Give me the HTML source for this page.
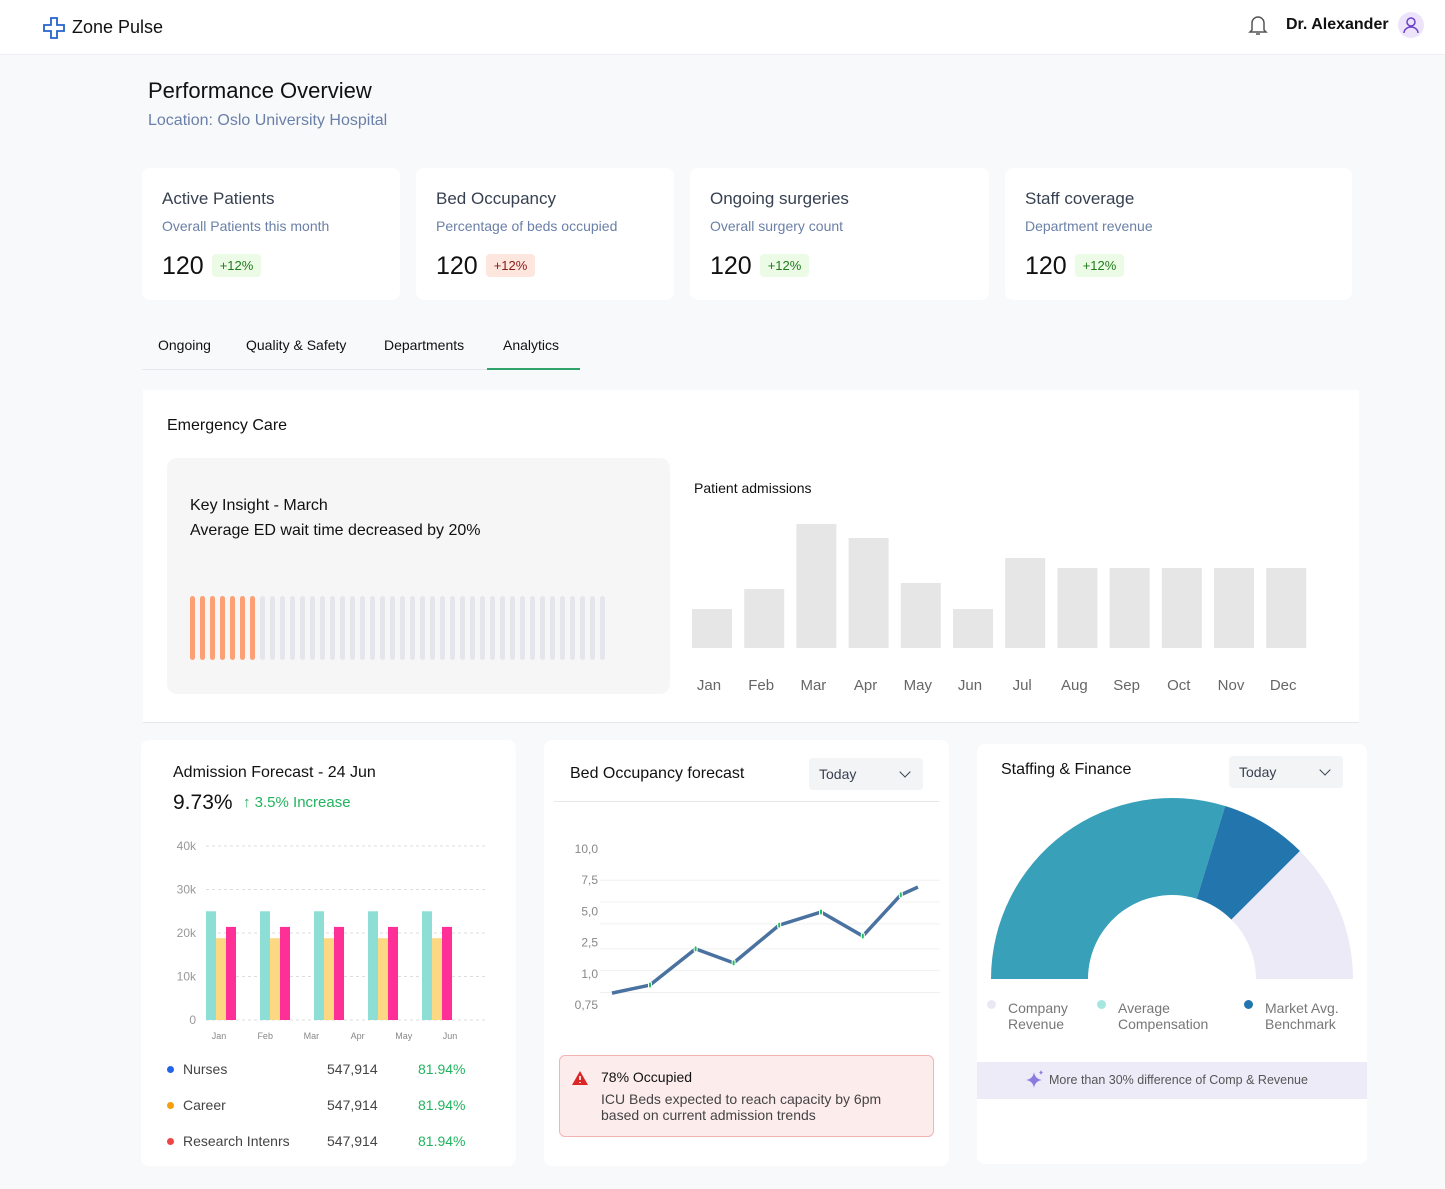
<!DOCTYPE html>
<html><head><meta charset="utf-8">
<style>
*{box-sizing:border-box;margin:0;padding:0}
body{width:1445px;height:1189px;background:#f8f9fb;font-family:"Liberation Sans",sans-serif;color:#1f2937;position:relative;overflow:hidden}
.abs{position:absolute}
.card{position:absolute;background:#fff;border-radius:8px}
.t{position:absolute;white-space:nowrap}
.badge{display:inline-block;font-size:13px;padding:4px 8px;border-radius:4px;margin-left:8px;vertical-align:4px}
.g{background:#ecfbe6;color:#207a1c}.r{background:#fde6dd;color:#8b1a1a}
.dd{position:absolute;background:#f3f4f6;border-radius:4px;font-size:14px;color:#374151;padding:8px 10px;width:114px;height:32px}
.dd:after{content:"";position:absolute;right:14px;top:10px;width:7px;height:7px;border-right:1.5px solid #374151;border-bottom:1.5px solid #374151;transform:rotate(45deg)}
</style></head><body>
<div class="abs" style="left:0;top:0;width:1445px;height:55px;background:#fff;border-bottom:1px solid #eceef2"></div>
<svg class="abs" style="left:42px;top:16px" width="24" height="24" viewBox="0 0 24 24"><path d="M9 2h6v7h7v6h-7v7H9v-7H2V9h7z" fill="none" stroke="#2563c9" stroke-width="1.8"/></svg>
<div class="t" style="left:72px;top:17px;font-size:18px;color:#111">Zone Pulse</div>
<svg class="abs" style="left:1248px;top:14px" width="20" height="22" viewBox="0 0 20 22"><path d="M4 16V9a6 6 0 0112 0v7l2 2H2zM8 20h4" fill="none" stroke="#555" stroke-width="1.5"/></svg>
<div class="t" style="left:1286px;top:16px;font-size:16px;font-weight:bold;color:#111">Dr. Alexander</div>
<div class="abs" style="left:1398px;top:12px;width:26px;height:26px;border-radius:50%;background:#ede4fb"><svg width="26" height="26"><circle cx="13" cy="10" r="4" fill="none" stroke="#6b3fc9" stroke-width="1.5"/><path d="M6 21a7 6 0 0114 0" fill="none" stroke="#6b3fc9" stroke-width="1.5"/></svg></div>

<div class="t" style="left:148px;top:78px;font-size:22px;color:#111">Performance Overview</div>
<div class="t" style="left:148px;top:112px;font-size:16px;color:#6b80a8">Location: Oslo University Hospital</div>

<div class="card" style="left:142px;top:168px;width:258px;height:132px">
<div class="t" style="left:20px;top:21px;font-size:17px;color:#374151">Active Patients</div>
<div class="t" style="left:20px;top:50px;font-size:14px;color:#6b80a8">Overall Patients this month</div>
<div class="t" style="left:20px;top:84px;font-size:25px;color:#111">120<span class="badge g">+12%</span></div></div>
<div class="card" style="left:416px;top:168px;width:258px;height:132px">
<div class="t" style="left:20px;top:21px;font-size:17px;color:#374151">Bed Occupancy</div>
<div class="t" style="left:20px;top:50px;font-size:14px;color:#6b80a8">Percentage of beds occupied</div>
<div class="t" style="left:20px;top:84px;font-size:25px;color:#111">120<span class="badge r">+12%</span></div></div>
<div class="card" style="left:690px;top:168px;width:299px;height:132px">
<div class="t" style="left:20px;top:21px;font-size:17px;color:#374151">Ongoing surgeries</div>
<div class="t" style="left:20px;top:50px;font-size:14px;color:#6b80a8">Overall surgery count</div>
<div class="t" style="left:20px;top:84px;font-size:25px;color:#111">120<span class="badge g">+12%</span></div></div>
<div class="card" style="left:1005px;top:168px;width:347px;height:132px">
<div class="t" style="left:20px;top:21px;font-size:17px;color:#374151">Staff coverage</div>
<div class="t" style="left:20px;top:50px;font-size:14px;color:#6b80a8">Department revenue</div>
<div class="t" style="left:20px;top:84px;font-size:25px;color:#111">120<span class="badge g">+12%</span></div></div>

<div class="abs" style="left:142px;top:369px;width:438px;height:1px;background:#e5e7eb"></div>
<div class="t" style="left:158px;top:337px;font-size:14px;color:#111">Ongoing</div>
<div class="t" style="left:246px;top:337px;font-size:14px;color:#111">Quality &amp; Safety</div>
<div class="t" style="left:384px;top:337px;font-size:14px;color:#111">Departments</div>
<div class="t" style="left:503px;top:337px;font-size:14px;color:#111">Analytics</div>
<div class="abs" style="left:487px;top:368px;width:93px;height:2px;background:#2fa36b"></div>

<div class="abs" style="left:143px;top:390px;width:1216px;height:333px;background:#fff;border-bottom:1px solid #e5e7eb"></div>
<div class="t" style="left:167px;top:417px;font-size:16px;color:#111">Emergency Care</div>
<div class="abs" style="left:167px;top:458px;width:503px;height:236px;background:#f6f6f6;border-radius:10px"></div>
<div class="t" style="left:190px;top:497px;font-size:16px;color:#111">Key Insight - March</div>
<div class="t" style="left:190px;top:522px;font-size:16px;color:#111">Average ED wait time decreased by 20%</div>
<svg class="abs" id="ticks" style="left:185px;top:590px" width="430" height="75"></svg>
<div class="t" style="left:694px;top:480px;font-size:14px;color:#111">Patient admissions</div>
<svg class="abs" id="adm" style="left:680px;top:500px" width="650" height="205"></svg>

<div class="card" style="left:141px;top:740px;width:375px;height:426px"></div>
<div class="t" style="left:173px;top:764px;font-size:16px;color:#111">Admission Forecast - 24 Jun</div>
<div class="t" style="left:173px;top:791px;font-size:21px;color:#111">9.73%</div>
<div class="t" style="left:243px;top:794px;font-size:15px;color:#22b35e">↑ 3.5% Increase</div>
<svg class="abs" id="fc" style="left:160px;top:830px" width="340" height="215"></svg>
<div id="leg1"></div>

<div class="card" style="left:544px;top:740px;width:405px;height:426px"></div>
<div class="t" style="left:570px;top:765px;font-size:16px;color:#111">Bed Occupancy forecast</div>
<div class="dd" style="left:809px;top:758px">Today</div>
<div class="abs" style="left:554px;top:801px;width:385px;height:1px;background:#e5e7eb"></div>
<svg class="abs" id="ln" style="left:560px;top:820px" width="385" height="200"></svg>
<div class="abs" style="left:559px;top:1055px;width:375px;height:82px;background:#fdecec;border:1px solid #f3b3b3;border-radius:6px">
<svg class="abs" style="left:11px;top:14px" width="18" height="16"><path d="M9 1L17 15H1z" fill="#dc2626"/><path d="M9 6v4M9 12v1" stroke="#fff" stroke-width="1.6"/></svg>
<div class="t" style="left:41px;top:13px;font-size:14px;color:#111">78% Occupied</div>
<div class="t" style="left:41px;top:35px;font-size:14px;color:#444;line-height:16px;white-space:normal;width:320px">ICU Beds expected to reach capacity by 6pm based on current admission trends</div></div>

<div class="card" style="left:977px;top:744px;width:390px;height:420px"></div>
<div class="t" style="left:1001px;top:761px;font-size:16px;color:#111">Staffing &amp; Finance</div>
<div class="dd" style="left:1229px;top:756px">Today</div>
<svg class="abs" id="gauge" style="left:977px;top:780px" width="390" height="210"></svg>
<div id="leg2"></div>
<div class="abs" style="left:977px;top:1062px;width:390px;height:37px;background:#eeebf8">
<svg class="abs" style="left:47px;top:7px" width="22" height="22"><path d="M10 3Q11 10 18 11Q11 12 10 19Q9 12 2 11Q9 10 10 3z" fill="#8b7be0"/><path d="M17 1Q17.5 3 19 3.5Q17.5 4 17 6Q16.5 4 15 3.5Q16.5 3 17 1z" fill="#8b7be0"/></svg>
<div class="t" style="left:72px;top:11px;font-size:12.5px;color:#555">More than 30% difference of Comp &amp; Revenue</div></div>

<script>
const NS="http://www.w3.org/2000/svg";
function mk(p,tag,a){const e=document.createElementNS(NS,tag);for(const k in a)e.setAttribute(k,a[k]);p.appendChild(e);return e;}

// progress ticks
const tickTotal=42, tickFilled=7;
const tk=document.getElementById('ticks');
for(let i=0;i<tickTotal;i++){const r=mk(tk,'rect',{x:5+i*10,y:6,width:5,height:64,rx:2.5,fill:i<tickFilled?'#fd9f74':'#e5e6eb'});

}

// patient admissions
const admMonths=["Jan","Feb","Mar","Apr","May","Jun","Jul","Aug","Sep","Oct","Nov","Dec"];
const admValues=[39,59,124,110,65,39,90,80,80,80,80,80];
const adm=document.getElementById('adm');
const ax=i=>12+i*52.2, ay=v=>148-v;
admMonths.forEach((m,i)=>{const b=mk(adm,'rect',{x:ax(i),y:ay(admValues[i]),width:40,height:148-ay(admValues[i]),fill:'#e6e6e6'});


const t=mk(adm,'text',{x:ax(i)+17,y:190,'text-anchor':'middle','font-size':15,fill:'#666'});t.textContent=m;});

// admission forecast
const fcMonths=["Jan","Feb","Mar","Apr","May","Jun"];
const fcTicks=["0","10k","20k","30k","40k"];
const nurses=[25000,25000,25000,25000,25000];
const career=[18800,18800,18800,18800,18800];
const research=[21400,21400,21400,21400,21400];
const fc=document.getElementById('fc');
const fy=v=>190-v*174/40000;
fcTicks.forEach((t,i)=>{const y=fy(i*10000);mk(fc,'line',{x1:46,x2:325,y1:y,y2:y,stroke:'#ddd','stroke-dasharray':'3 3'});
const tx=mk(fc,'text',{x:36,y:y+4,'text-anchor':'end','font-size':12,fill:'#999'});tx.textContent=t;});
nurses.forEach((v,i)=>{const x=46+i*54;
[[nurses[i],'#8ddfd6'],[career[i],'#fdd882'],[research[i],'#fe2f96']].forEach((s,j)=>{const b=mk(fc,'rect',{x:x+j*10,y:fy(s[0]),width:10,height:190-fy(s[0]),fill:s[1]});

});});
fcMonths.forEach((m,i)=>{const t=mk(fc,'text',{x:59+i*46.2,y:209,'text-anchor':'middle','font-size':9,fill:'#888'});t.textContent=m;});

const legNames=["Nurses","Career","Research Intenrs"], legCounts=["547,914","547,914","547,914"], legPct=["81.94%","81.94%","81.94%"], legCols=["#2563eb","#f59e0b","#ef4444"];
let h='';legNames.forEach((n,i)=>{const y=1061+i*36;
h+=`<div class="abs" style="left:167px;top:${y+5}px;width:7px;height:7px;border-radius:50%;background:${legCols[i]}"></div><div class="t" style="left:183px;top:${y}px;font-size:14px;color:#444">${n}</div><div class="t" style="left:327px;top:${y}px;font-size:14px;color:#444">${legCounts[i]}</div><div class="t" style="left:418px;top:${y}px;font-size:14px;color:#22b35e">${legPct[i]}</div>`;});
document.getElementById('leg1').outerHTML=h;

// line chart
const lnTicks=["0,75","1,0","2,5","5,0","7,5","10,0"];
const lnX=[0,1,2.2,3.2,4.4,5.5,6.6,7.6,8.05];
const lnY=[0.38,0.64,1.8,1.35,2.56,2.98,2.21,3.53,3.78];
const ln=document.getElementById('ln');
const lx=v=>52+v*38, ly=v=>185-v*31.2;
[1,2,3,4,5].forEach(i=>{const y=ly(i)+ (i<5?-8:0);});
[0.4,1.1,1.8,2.6,3.3,4.0].forEach(g=>mk(ln,'line',{x1:40,x2:380,y1:ly(g),y2:ly(g),stroke:'#f0f0f0'}));
lnTicks.forEach((t,i)=>{const tx=mk(ln,'text',{x:38,y:ly(i)+4,'text-anchor':'end','font-size':12,fill:'#888'});tx.textContent=t;});
const pts=lnX.map((x,i)=>lx(x)+','+ly(lnY[i])).join(' ');
const pl=mk(ln,'polyline',{points:pts,fill:'none',stroke:'#4a72a0','stroke-width':3.5,'stroke-linejoin':'round'});


lnX.forEach((x,i)=>{if(i==0||i==lnX.length-1)return;const c=mk(ln,'rect',{x:lx(x)-1.5,y:ly(lnY[i])-3,width:3,height:6,rx:1.5,fill:'#1fbf5c',stroke:'#fff','stroke-width':1});

});

// gauge
const gaugeLabels=["Average Compensation","Market Avg. Benchmark","Company Revenue"];
const gaugeValues=[59.5,15.5,25];
const gaugeCols=["#38a0b8","#2276ad","#edeaf8"];
const g=document.getElementById('gauge');
const cx=195,cy=199,R=181,r=84;
let a0=Math.PI;const tot=gaugeValues.reduce((a,b)=>a+b,0);
gaugeValues.forEach((v,i)=>{const a1=a0-v/tot*Math.PI;
const p=(rad,a)=>[cx+rad*Math.cos(a),cy-rad*Math.sin(a)];
const [x0,y0]=p(R,a0),[x1,y1]=p(R,a1),[x2,y2]=p(r,a1),[x3,y3]=p(r,a0);
const s=mk(g,'path',{d:`M${x0},${y0}A${R},${R} 0 0 1 ${x1},${y1}L${x2},${y2}A${r},${r} 0 0 0 ${x3},${y3}Z`,fill:gaugeCols[i]});


a0=a1;});
const l2=[["Company<br>Revenue","#ebe8f5",987,1008],["Average<br>Compensation","#a5e6e0",1097,1118],["Market Avg.<br>Benchmark","#2276ad",1244,1265]];
let h2='';l2.forEach(e=>{h2+=`<div class="abs" style="left:${e[2]}px;top:1000px;width:9px;height:9px;border-radius:50%;background:${e[1]}"></div><div class="t" style="left:${e[3]}px;top:1000px;font-size:14px;line-height:16px;color:#777">${e[0]}</div>`;});
document.getElementById('leg2').outerHTML=h2;
</script>
</body></html>
